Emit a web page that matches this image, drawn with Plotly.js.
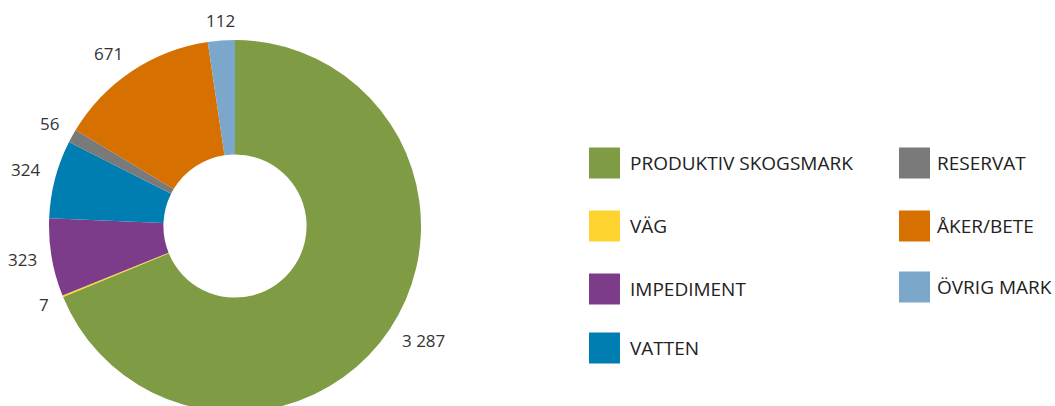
<!DOCTYPE html>
<html>
<head>
<meta charset="utf-8">
<script src="https://cdn.plot.ly/plotly-3.0.1.min.js"></script>
<style>
html,body{margin:0;padding:0;background:#fff;overflow:hidden;}
#chart{width:1055px;height:412px;}
</style>
</head>
<body>
<div id="chart"></div>
<script>
// Data
var categories = ["PRODUKTIV SKOGSMARK", "VÄG", "IMPEDIMENT", "VATTEN", "RESERVAT", "ÅKER/BETE", "ÖVRIG MARK"];
var values = [3287, 7, 323, 324, 56, 671, 112];
var colors = ["#7f9c45", "#fed330", "#7d3c8a", "#007db1", "#7a7a7a", "#d67000", "#7ba7cb"];

var W = 1055, H = 412;

function fmt(v) {
  return String(v).replace(/\B(?=(\d{3})+(?!\d))/g, " ");
}

// Legend layout: column-major, 4 rows in first column
var legendCols = [
  {sqX: 589, txtX: 629, idx: [0, 1, 2, 3], rowsY: [163, 226, 289, 348]},
  {sqX: 899, txtX: 936, idx: [4, 5, 6], rowsY: [163, 226, 287]}
];
var sq = 31;

var shapes = [], annotations = [];
legendCols.forEach(function(col){
  col.idx.forEach(function(i, r){
    var cy = col.rowsY[r];
    shapes.push({
      type: "rect", xref: "paper", yref: "paper",
      x0: col.sqX / W, x1: (col.sqX + sq) / W,
      y0: 1 - (cy + sq/2) / H, y1: 1 - (cy - sq/2) / H,
      fillcolor: colors[i], line: {width: 0}
    });
    annotations.push({
      xref: "paper", yref: "paper",
      x: col.txtX / W, y: 1 - cy / H,
      xanchor: "left", yanchor: "middle",
      text: categories[i], showarrow: false, borderpad: 0,
      font: {family: "Open Sans", size: 19, color: "#222"}
    });
  });
});

// Pie geometry
var cx = 235, cyTop = 226, R = 186, labelR = 200;

// Value labels placed just outside each slice's mid-angle (computed from the data)
var total = values.reduce(function(a, b){ return a + b; }, 0);
var cum = 0;
values.forEach(function(v, i){
  var mid = (cum + v / 2) / total * 2 * Math.PI;
  cum += v;
  var s = Math.sin(mid), c = Math.cos(mid);
  var px = cx + labelR * s;
  var py = cyTop - labelR * c;       // screen y (down)
  var xa = Math.abs(s) < 0.25 ? "center" : (s > 0 ? "left" : "right");
  var ty;
  if (Math.abs(c) < 0.2) ty = py;
  else ty = py + (c < 0 ? 3 : -6);
  annotations.push({
    xref: "paper", yref: "paper",
    x: px / W, y: 1 - ty / H,
    xanchor: xa, yanchor: "middle",
    text: fmt(v), showarrow: false, borderpad: 0,
    font: {family: "Open Sans", size: 17, color: "#333"}
  });
});

var trace = {
  type: "pie",
  labels: categories,
  values: values,
  sort: false,
  direction: "clockwise",
  rotation: 0,
  hole: 0.385,
  marker: {colors: colors, line: {width: 0}},
  textinfo: "none",
  showlegend: false,
  domain: {
    x: [(cx - R) / W, (cx + R) / W],
    y: [(H - cyTop - R) / H, (H - cyTop + R) / H]
  }
};

var layout = {
  width: W, height: H,
  margin: {l: 0, r: 0, t: 0, b: 0},
  paper_bgcolor: "#fff",
  showlegend: false,
  shapes: shapes,
  annotations: annotations
};

Plotly.newPlot("chart", [trace], layout, {displayModeBar: false, staticPlot: true});
</script>
</body>
</html>
